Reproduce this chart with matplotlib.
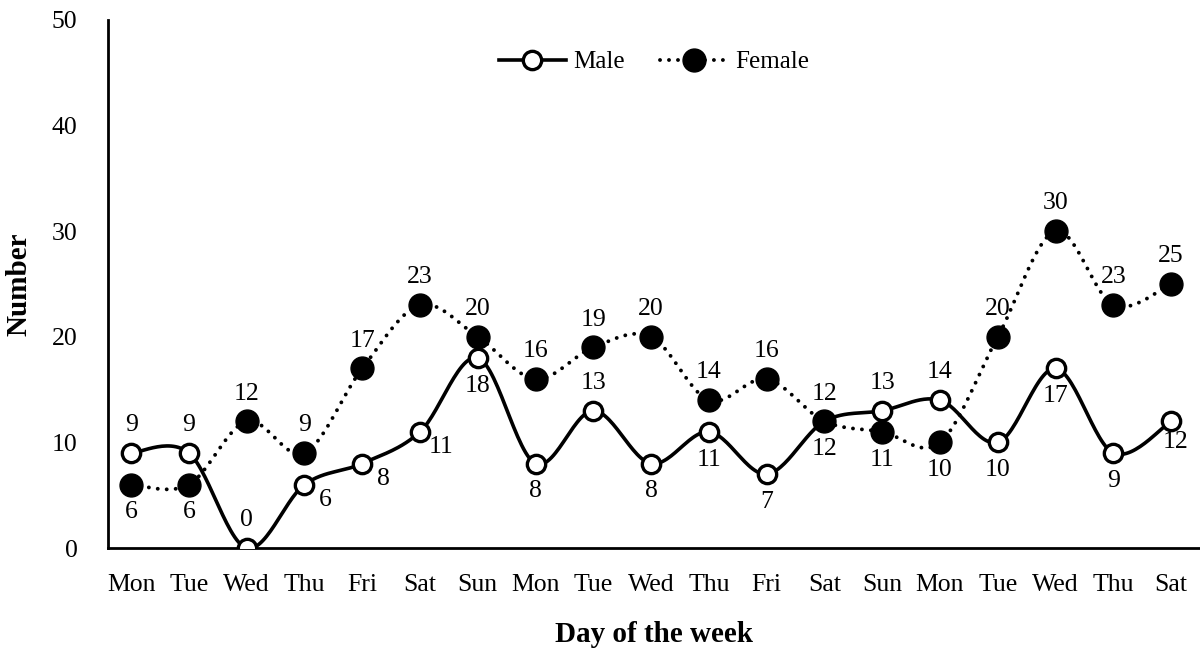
import numpy as np
import matplotlib
matplotlib.use("Agg")
import matplotlib.pyplot as plt
from matplotlib.lines import Line2D

days = ["Mon", "Tue", "Wed", "Thu", "Fri", "Sat", "Sun", "Mon", "Tue", "Wed",
        "Thu", "Fri", "Sat", "Sun", "Mon", "Tue", "Wed", "Thu", "Sat"]
male = [9, 9, 0, 6, 8, 11, 18, 8, 13, 8, 11, 7, 12, 13, 14, 10, 17, 9, 12]
female = [6, 6, 12, 9, 17, 23, 20, 16, 19, 20, 14, 16, 12, 11, 10, 20, 30, 23, 25]

# label placement: 'a' above, 'b' below, 'r' right, 'br' below (close)
male_pos = ["a", "a", "a", "r", "r", "r", "b", "b", "a", "b", "b", "b", "b", "a", "a", "b", "b", "b", "br"]
female_pos = ["b", "b", "a", "a", "a", "a", "a", "a", "a", "a", "a", "a", "a", "b", "b", "a", "a", "a", "a"]

plt.rcParams["font.family"] = ["Liberation Serif", "DejaVu Serif"]


def smooth(x, y, n=30):
    x = np.asarray(x, float)
    y = np.asarray(y, float)
    px = np.concatenate([[x[0]], x, [x[-1]]])
    py = np.concatenate([[y[0]], y, [y[-1]]])
    xs, ys = [], []
    for i in range(1, len(px) - 2):
        p0, p1, p2, p3 = (np.array([px[j], py[j]]) for j in (i - 1, i, i + 1, i + 2))
        c1 = p1 + (p2 - p0) / 6.0
        c2 = p2 - (p3 - p1) / 6.0
        t = np.linspace(0, 1, n)[:, None]
        b = ((1 - t) ** 3) * p1 + 3 * ((1 - t) ** 2) * t * c1 + 3 * (1 - t) * t ** 2 * c2 + t ** 3 * p2
        xs.append(b[:, 0])
        ys.append(b[:, 1])
    return np.concatenate(xs), np.concatenate(ys)


fig = plt.figure(figsize=(12, 6.56), dpi=100)
ax = fig.add_axes([0.09, 0.1646, 0.91, 0.805])

dot_style = (0, (0.01, 2.3))
x = np.arange(len(days))
sx, sy = smooth(x, male)
ax.plot(sx, sy, color="black", lw=2.6, zorder=2)
ax.plot(x, male, linestyle="none", marker="o", ms=13.2, mfc="white", mec="black", mew=2.4, zorder=3)
sx, sy = smooth(x, female)
ax.plot(sx, sy, color="black", lw=2.8, linestyle=dot_style, dash_capstyle="round", zorder=4)
ax.plot(x, female, linestyle="none", marker="o", ms=16.5, mfc="black", mec="black", zorder=5)

fs = 18.5


def label(xi, yi, pos):
    if pos == "a":
        off = (0, 20)
    elif pos == "b":
        off = (0, -20)
    elif pos == "r":
        off = (15, -11)
    else:
        off = (3, -15)
    ax.annotate(str(yi), (xi, yi), xytext=off, textcoords="offset points",
                ha="center", va="center", fontsize=fs)


for xi, yi, p in zip(x, male, male_pos):
    label(xi, yi, p)
for xi, yi, p in zip(x, female, female_pos):
    label(xi, yi, p)

ax.set_xlim(-0.4, 18.5)
ax.set_ylim(0, 50)
ax.set_yticks([0, 10, 20, 30, 40, 50])
ax.set_xticks(x)
ax.set_xticklabels(days)
ax.tick_params(axis="both", length=0, labelsize=fs)
ax.tick_params(axis="y", pad=22)
ax.tick_params(axis="x", pad=19)
for s in ["top", "right"]:
    ax.spines[s].set_visible(False)
for s in ["left", "bottom"]:
    ax.spines[s].set_linewidth(2.0)
    ax.spines[s].set_color("black")

ax.set_xlabel("Day of the week", fontsize=21, fontweight="bold", labelpad=18)
ax.set_ylabel("Number", fontsize=21, fontweight="bold", labelpad=14)

h_male = Line2D([], [], color="black", lw=2.6, marker="o", ms=13.2, mfc="white", mec="black", mew=2.4)
h_female = Line2D([], [], color="black", lw=2.8, linestyle=dot_style, dash_capstyle="round",
                  marker="o", ms=16.5, mfc="black", mec="black")
ax.legend([h_male, h_female], ["Male", "Female"], loc="center", bbox_to_anchor=(0.5, 0.92),
          ncol=2, frameon=False, fontsize=18, handlelength=2.7, handletextpad=0.3, columnspacing=1.4)

fig.savefig("out.png", dpi=100)
